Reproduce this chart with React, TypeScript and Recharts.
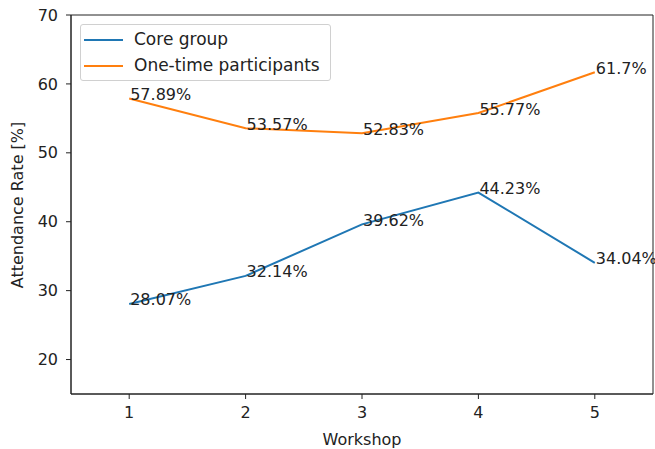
import React from "react";
import { LineChart, Line, XAxis, YAxis, LabelList, ReferenceArea, Label } from "recharts";

const workshops = [1, 2, 3, 4, 5];
const coreGroup = [28.07, 32.14, 39.62, 44.23, 34.04];
const oneTime = [57.89, 53.57, 52.83, 55.77, 61.7];
const yTicks = [20, 30, 40, 50, 60, 70];

const data = workshops.map((w, i) => ({ w, core: coreGroup[i], one: oneTime[i] }));

const FONT = "DejaVu Sans";
const FS = 16;
const TXT = "#222";

const pointLabel = (props: any) => {
  const { x, y, value } = props;
  return (
    <text x={x + 1} y={y + 1.5} fontFamily={FONT} fontSize={FS} fill={TXT} textAnchor="start">
      {`${value}%`}
    </text>
  );
};

export default function App() {
  return (
    <div style={{ position: "absolute", left: 0, top: 0, width: 655, height: 449, background: "#fff" }}>
      <LineChart width={655} height={449} data={data} margin={{ top: 15, right: 2, left: 0, bottom: 0 }}>
        <XAxis
          dataKey="w"
          type="number"
          domain={[0.5, 5.5]}
          ticks={workshops}
          allowDataOverflow
          height={55}
          tickSize={5}
          tickMargin={8}
          stroke="#222"
          tick={{ fontFamily: FONT, fontSize: FS, fill: TXT }}
        >
          <Label
            content={() => (
              <text x={362} y={445} textAnchor="middle" fontFamily={FONT} fontSize={FS} fill={TXT}>
                Workshop
              </text>
            )}
          />
        </XAxis>
        <YAxis
          type="number"
          domain={[15, 70]}
          ticks={yTicks}
          allowDataOverflow
          width={71}
          tickSize={5}
          tickMargin={8}
          stroke="#222"
          tick={{ fontFamily: FONT, fontSize: FS, fill: TXT }}
        >
          <Label
            content={() => (
              <text
                x={17}
                y={205}
                transform="rotate(-90, 17, 205)"
                textAnchor="middle"
                dominantBaseline="central"
                fontFamily={FONT}
                fontSize={FS}
                fill={TXT}
              >
                Attendance Rate [%]
              </text>
            )}
          />
        </YAxis>
        <ReferenceArea x1={0.5} x2={5.5} y1={15} y2={70} stroke="#222" strokeWidth={1} fill="none" fillOpacity={0} />
        <Line type="linear" dataKey="core" stroke="#1f77b4" strokeWidth={2} dot={false} isAnimationActive={false}>
          <LabelList dataKey="core" content={pointLabel} />
        </Line>
        <Line type="linear" dataKey="one" stroke="#ff7f0e" strokeWidth={2} dot={false} isAnimationActive={false}>
          <LabelList dataKey="one" content={pointLabel} />
        </Line>
      </LineChart>
      <div
        style={{
          position: "absolute",
          left: 80,
          top: 24,
          width: 249,
          height: 55,
          border: "1px solid #d0d0d0",
          borderRadius: 3,
          background: "rgba(255,255,255,0.8)",
          fontFamily: FONT,
          fontSize: 17,
          color: TXT,
        }}
      >
        {[
          { name: "Core group", color: "#1f77b4" },
          { name: "One-time participants", color: "#ff7f0e" },
        ].map((e, i) => (
          <div key={e.name} style={{ position: "absolute", left: 0, top: 2 + i * 26, height: 26, width: "100%" }}>
            <div style={{ position: "absolute", left: 3, top: 12, width: 39, height: 2, background: e.color }} />
            <span style={{ position: "absolute", left: 53, top: 2, whiteSpace: "nowrap", lineHeight: "20px" }}>{e.name}</span>
          </div>
        ))}
      </div>
    </div>
  );
}
